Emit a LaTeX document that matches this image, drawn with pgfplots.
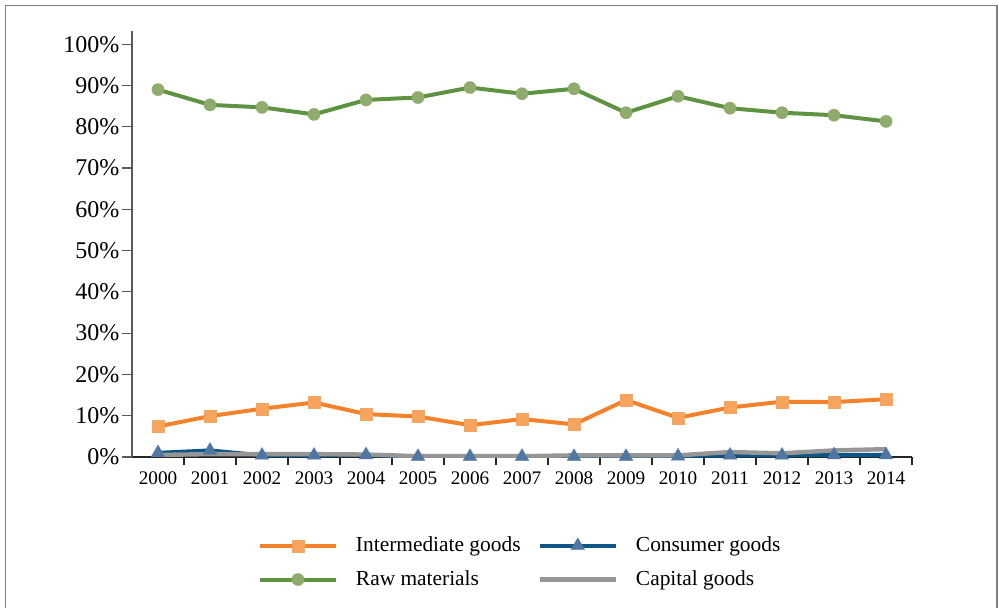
\documentclass[border=0pt]{standalone}
\usepackage{pgfplots}
\pgfplotsset{compat=1.18}
\usepackage{fontspec}
\setmainfont{Liberation Serif}
\definecolor{orL}{HTML}{F3822A}
\definecolor{orM}{HTML}{F6A45E}
\definecolor{grL}{HTML}{5E9441}
\definecolor{grM}{HTML}{8FAB6E}
\definecolor{blL}{HTML}{0D5584}
\definecolor{blM}{HTML}{5077A3}
\definecolor{gyL}{HTML}{969696}
\definecolor{frm}{HTML}{7F7F7F}
\begin{document}
\begin{tikzpicture}
\path[use as bounding box] (0,0) rectangle (499.5pt,-304pt);
\draw[frm, line width=0.8pt] (2.8pt,-2.8pt) rectangle (498.5pt,-330pt);
\begin{axis}[
  at={(66pt,-228.5pt)}, anchor=south west,
  scale only axis, width=390pt, height=213pt,
  xmin=-0.5, xmax=14.5, ymin=0, ymax=103.2,
  axis x line=bottom, axis y line=left,
  axis line style={-, line width=0.6pt},
  x axis line style={black!85},
  y axis line style={black!65},
  xtick={0,...,14},
  xticklabels={2000,2001,2002,2003,2004,2005,2006,2007,2008,2009,2010,2011,2012,2013,2014},
  major x tick style={draw=none},
  minor xtick={0.5,1.5,...,14.5},
  minor tick length=4pt,
  x tick style={black!85, line width=0.6pt},
  ytick={0,10,...,100},
  yticklabel={\pgfmathprintnumber{\tick}\%},
  y tick style={black!65, line width=0.6pt},
  tick align=outside,
  major tick length=5pt,
  /pgf/number format/assume math mode=true,
  xticklabel style={font=\fontsize{9.6}{11}\selectfont, yshift=1pt},
  yticklabel style={font=\fontsize{12}{13}\selectfont, xshift=2.2pt},
  legend columns=2,
  legend style={at={(0.161,-0.248)}, anchor=west, draw=none, fill=none,
    font=\fontsize{10.7}{12}\selectfont, inner sep=0pt,
    /tikz/every odd column/.append style={column sep=7pt},
    /tikz/every even column/.append style={column sep=6.5pt},
    row sep=4pt},
  legend cell align=left,
  legend image code/.code={
    \draw[#1, mark repeat=2, mark phase=2] plot coordinates {(0pt,0pt) (19pt,0pt) (38pt,0pt)};
  },
]
\addplot[orL, line width=2pt, mark=square*, mark size=3pt, mark options={solid, fill=orM, draw=orM, line width=0.1pt}]
coordinates {(0,7.4)(1,9.9)(2,11.7)(3,13.2)(4,10.4)(5,9.8)(6,7.7)(7,9.2)(8,7.9)(9,13.8)(10,9.5)(11,12.0)(12,13.4)(13,13.3)(14,14.0)};
\addlegendentry{Intermediate goods}
\addplot[blL, line width=2pt, mark=triangle*, mark size=4pt, mark options={solid, fill=blM, draw=blM, line width=0.1pt}]
coordinates {(0,1.0)(1,1.6)(2,0.4)(3,0.4)(4,0.5)(5,0.1)(6,0.1)(7,0.1)(8,0.1)(9,0.1)(10,0.2)(11,0.4)(12,0.4)(13,0.5)(14,0.5)};
\addlegendentry{Consumer goods}
\addplot[grL, line width=2pt, mark=*, mark size=3.1pt, mark options={solid, fill=grM, draw=grM, line width=0.1pt}]
coordinates {(0,89.0)(1,85.3)(2,84.7)(3,83.0)(4,86.5)(5,87.1)(6,89.5)(7,88.0)(8,89.2)(9,83.4)(10,87.4)(11,84.5)(12,83.4)(13,82.8)(14,81.3)};
\addlegendentry{Raw materials}
\addplot[gyL, line width=2.2pt]
coordinates {(0,0.5)(1,0.7)(2,0.7)(3,0.7)(4,0.6)(5,0.2)(6,0.2)(7,0.2)(8,0.4)(9,0.4)(10,0.4)(11,1.2)(12,0.9)(13,1.6)(14,1.9)};
\addlegendentry{Capital goods}
\end{axis}
\end{tikzpicture}
\end{document}
